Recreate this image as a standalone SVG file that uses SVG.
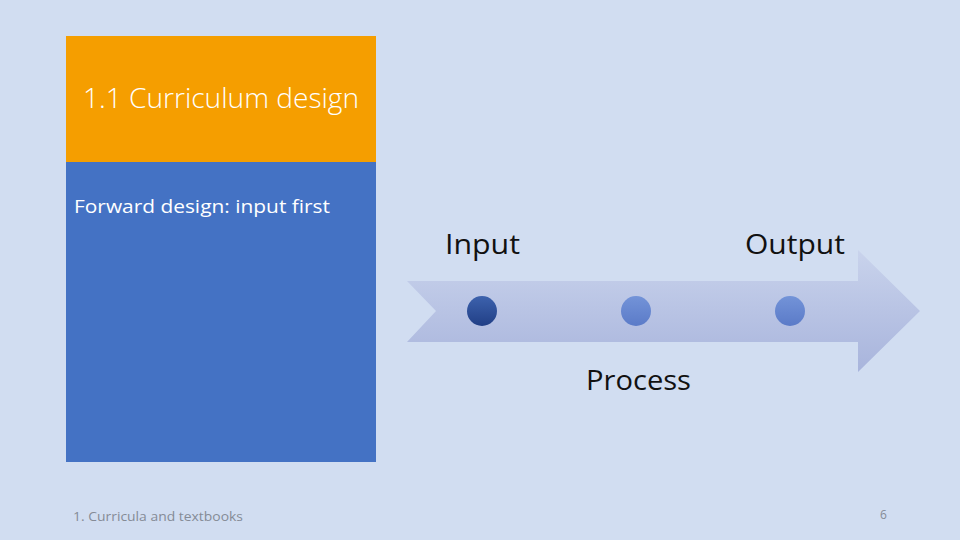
<svg xmlns="http://www.w3.org/2000/svg" width="960" height="540" viewBox="0 0 960 540">
<defs>
<linearGradient id="ag" x1="0" y1="0" x2="0" y2="1">
<stop offset="0" stop-color="#c9d3ec"/>
<stop offset="1" stop-color="#a8b4dc"/>
</linearGradient>
<linearGradient id="dg" x1="0" y1="0" x2="0" y2="1">
<stop offset="0" stop-color="#3d62ad"/>
<stop offset="1" stop-color="#213f86"/>
</linearGradient>
<linearGradient id="lg" x1="0" y1="0" x2="0" y2="1">
<stop offset="0" stop-color="#7393d8"/>
<stop offset="1" stop-color="#5b7bc8"/>
</linearGradient>
<style>
.t{font-family:"Open Sans","Noto Sans",sans-serif;}
.lbl{font-size:28px;fill:#111;}
</style>
</defs>
<rect width="960" height="540" fill="#d1ddf1"/>
<g id="title">
<rect x="66" y="36" width="310" height="126" fill="#f59e00"/>
<text class="t" x="83" y="108" font-size="27" font-weight="300" fill="#fff" textLength="276" lengthAdjust="spacingAndGlyphs">1.1 Curriculum design</text>
</g>
<g id="body">
<rect x="66" y="162" width="310" height="300" fill="#4472c4"/>
<text class="t" x="74" y="213" font-size="19" fill="#fff" textLength="256" lengthAdjust="spacingAndGlyphs">Forward design: input first</text>
</g>
<g id="arrow">
<polygon points="407,281 858,281 858,250 920,311 858,372 858,342 407,342 436,311" fill="url(#ag)"/>
</g>
<g id="dots">
<circle cx="482" cy="311" r="15" fill="url(#dg)"/>
<circle cx="636" cy="311" r="15" fill="url(#lg)"/>
<circle cx="790" cy="311" r="15" fill="url(#lg)"/>
</g>
<g id="input"><text class="t lbl" x="445" y="254" textLength="75" lengthAdjust="spacingAndGlyphs">Input</text></g>
<g id="output"><text class="t lbl" x="745" y="254" textLength="100" lengthAdjust="spacingAndGlyphs">Output</text></g>
<g id="process"><text class="t lbl" x="586" y="390" textLength="105" lengthAdjust="spacingAndGlyphs">Process</text></g>
<g id="footer">
<text class="t" x="73" y="521" font-size="13" fill="#858b96" textLength="170" lengthAdjust="spacingAndGlyphs">1. Curricula and textbooks</text>
<text class="t" x="880" y="519" font-size="12" fill="#858b96">6</text>
</g>
</svg>
